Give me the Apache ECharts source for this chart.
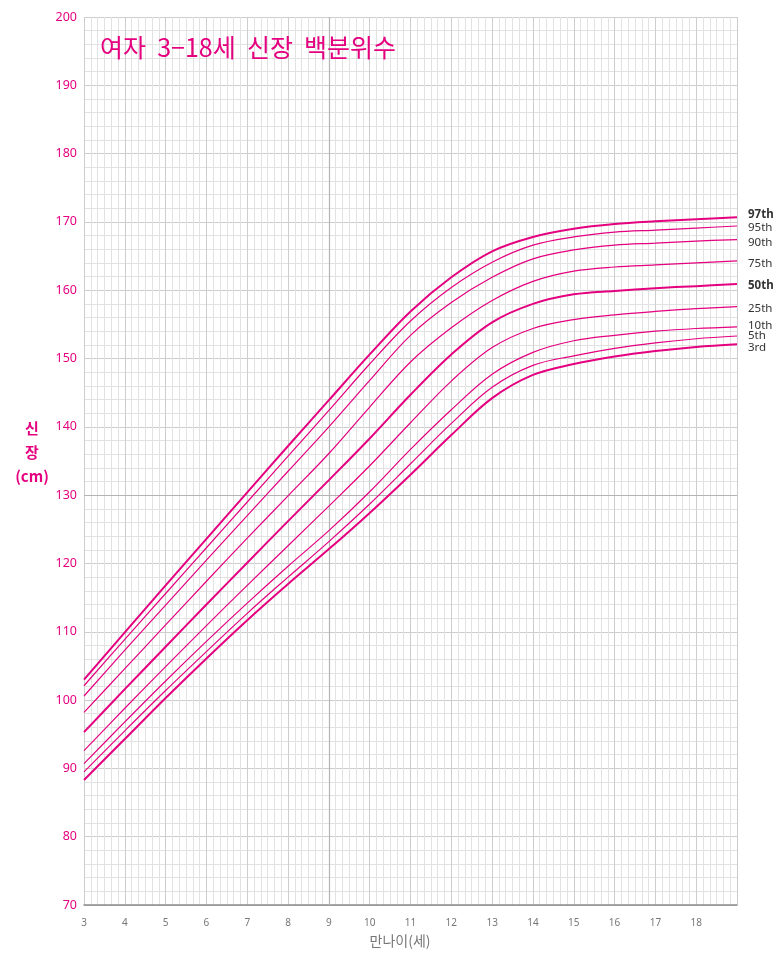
<!DOCTYPE html>
<html><head><meta charset="utf-8">
<script src="https://cdn.jsdelivr.net/npm/echarts@6/dist/echarts.min.js"></script>
<style>html,body{margin:0;padding:0;background:#fff}#c{width:783px;height:962px}</style>
</head><body><div id="c"></div>
<script>
const ages = [3,4,5,6,7,8,9,10,11,12,13,14,15,16,17,18,19];
const xTickLabels = ['3','4','5','6','7','8','9','10','11','12','13','14','15','16','17','18'];
const p97 = [103.0,109.9,116.8,123.6,130.4,137.2,143.9,150.6,156.9,161.9,165.7,167.8,169.0,169.7,170.1,170.4,170.7];
const p95 = [102.1,108.9,115.6,122.3,129.0,135.7,142.4,149.2,155.5,160.4,164.1,166.6,167.8,168.5,168.8,169.1,169.4];
const p90 = [100.6,107.3,113.9,120.5,127.0,133.5,140.0,146.8,153.4,158.2,161.9,164.6,165.9,166.6,166.9,167.2,167.4];
const p75 = [98.2,104.6,111.0,117.4,123.7,129.9,136.1,142.9,149.5,154.5,158.5,161.3,162.8,163.4,163.7,164.0,164.3];
const p50 = [95.3,101.6,107.8,114.0,120.1,126.2,132.2,138.3,144.7,150.6,155.3,158.0,159.4,159.9,160.3,160.6,160.9];
const p25 = [92.6,98.8,104.9,110.9,116.8,122.6,128.4,134.3,140.6,146.7,151.6,154.4,155.7,156.4,156.9,157.3,157.6];
const p10 = [90.7,96.8,102.8,108.6,114.2,119.6,124.8,130.5,136.7,142.5,147.7,150.9,152.6,153.4,154.0,154.4,154.65];
const p5  = [89.5,95.5,101.4,107.1,112.7,118.0,123.2,128.7,134.6,140.5,145.8,149.0,150.4,151.5,152.3,152.9,153.3];
const p3  = [88.3,94.3,100.3,106.1,111.7,117.0,122.1,127.4,133.0,138.8,144.2,147.6,149.2,150.3,151.1,151.7,152.1];
const seriesNames = ['97th','95th','90th','75th','50th','25th','10th','5th','3rd'];
const seriesVals = [p97,p95,p90,p75,p50,p25,p10,p5,p3];

const MAG = '#e4007f';
const thick = {'97th':true,'50th':true,'3rd':true};
const labelOffset = {'97th':-2,'95th':2,'90th':3,'75th':3,'50th':2,'25th':2,'10th':-1,'5th':0,'3rd':4};

const series = seriesNames.map((n,i)=>({
  name:n, type:'line', smooth:0.35, symbol:'none',
  data: ages.map((a,j)=>[a, seriesVals[i][j]]),
  lineStyle:{color:MAG, width: thick[n]?2:1.2},
  z: 5,
  endLabel:{show:true, formatter:n, color:'#333', fontSize:11.5,
    fontFamily:'Noto Sans, sans-serif',
    fontWeight:(n==='97th'||n==='50th')?'bold':'normal', distance:11, offset:[0,labelOffset[n]]}
}));
series[0].markLine = {silent:true, symbol:'none', label:{show:false},
  lineStyle:{color:'#b4b4b4', width:1.2, type:'solid'},
  data:[{xAxis:9},{yAxis:130}]};

const chart = echarts.init(document.getElementById('c'));
chart.setOption({
  animation:false,
  backgroundColor:'#fff',
  grid:{left:84,right:46,top:17,bottom:57},
  xAxis:{type:'value',min:3,max:19,interval:1,
    axisLine:{show:true,onZero:false,lineStyle:{color:'#8c8c8c',width:1.5}},
    axisTick:{show:false},
    axisLabel:{color:'#777',fontSize:10,margin:13,fontFamily:'Noto Sans, sans-serif',
      formatter:v=>{const i=Math.round(v)-3; return xTickLabels[i]||'';}},
    splitLine:{show:true,lineStyle:{color:'#cdcdcd',width:1}},
    minorTick:{show:false,splitNumber:6},
    minorSplitLine:{show:true,lineStyle:{color:'#e2e2e2',width:1}}},
  yAxis:{type:'value',min:70,max:200,interval:10,
    axisLine:{show:false},axisTick:{show:false},
    axisLabel:{color:MAG,fontSize:12.5,margin:7,fontFamily:'Noto Sans, sans-serif'},
    splitLine:{show:true,lineStyle:{color:'#cdcdcd',width:1}},
    minorTick:{show:false,splitNumber:5},
    minorSplitLine:{show:true,lineStyle:{color:'#e2e2e2',width:1}}},
  graphic:[
    {type:'text',left:100,top:35,z:100,style:{text:'여자  3−18세  신장  백분위수',fill:MAG,
      font:'25px "Noto Sans CJK KR", sans-serif'}},
    {type:'text',x:32,y:416,z:100,style:{text:'신\n장\n(cm)',fill:MAG,textAlign:'center',
      font:'bold 15px "Noto Sans CJK KR", sans-serif',lineHeight:24}},
    {type:'text',x:400,y:934,z:100,style:{text:'만나이(세)',fill:'#777',textAlign:'center',
      font:'14px "Noto Sans CJK KR", sans-serif'}}
  ],
  series: series
});
</script></body></html>
